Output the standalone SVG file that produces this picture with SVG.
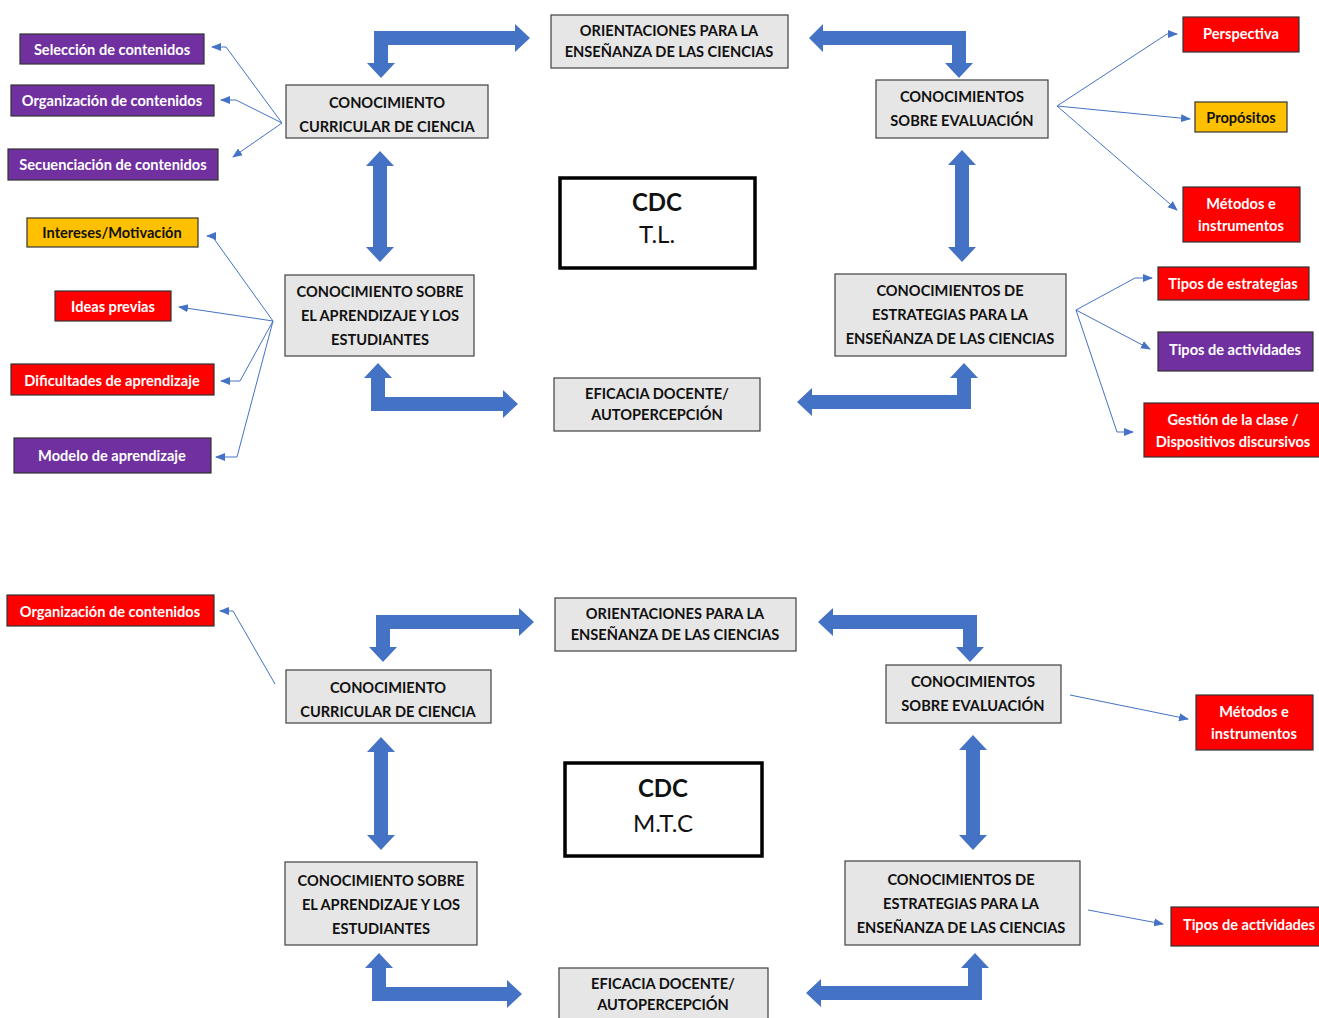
<svg xmlns="http://www.w3.org/2000/svg" width="1319" height="1018" viewBox="0 0 1319 1018">
<style>
.box{fill:#E7E6E6;stroke:#404040;stroke-width:1.2}
.cdc{fill:#fff;stroke:#000;stroke-width:3.5}
.pur{fill:#7030A0;stroke:#333;stroke-width:1.2}
.red{fill:#FF0000;stroke:#333;stroke-width:1.2}
.yel{fill:#FFC000;stroke:#333;stroke-width:1.2}
text{font-family:Lato,"Open Sans","Liberation Sans",sans-serif;font-weight:bold;text-anchor:middle;dominant-baseline:central}
.t{font-size:14.6px;fill:#111}
.w{font-size:14.6px;fill:#fff}
.k{font-size:14.6px;fill:#111}
.big{font-size:24px;fill:#111}
.reg{font-weight:normal}
.blk{fill:#4472C4}
.ln{fill:none;stroke:#4472C4;stroke-width:1}
</style>
<defs>
<marker id="ah" markerUnits="userSpaceOnUse" markerWidth="10" markerHeight="10" viewBox="0 0 10 10" refX="9" refY="5" orient="auto">
<path d="M0,1 L10,5 L0,9 Z" fill="#4472C4"/>
</marker>
</defs>
<rect width="1319" height="1018" fill="#fff"/>

<g id="connectors">
<path class="blk" d="M374,31 L515,31 L515,24 L530,38 L515,52 L515,45 L388,45 L388,63 L395,63 L381,78 L367,63 L374,63 Z"/>
<path class="blk" d="M966,31 L823,31 L823,24 L809,38 L823,52 L823,45 L952,45 L952,63 L945,63 L959,78 L973,63 L966,63 Z"/>
<path class="blk" d="M380,151 L394,166 L387,166 L387,247 L394,247 L380,262 L366,247 L373,247 L373,166 L366,166 Z"/>
<path class="blk" d="M962,150 L976,165 L969,165 L969,247 L976,247 L962,262 L948,247 L955,247 L955,165 L948,165 Z"/>
<path class="blk" d="M371,411 L371,378 L364,378 L378,363 L392,378 L385,378 L385,397 L503,397 L503,390 L518,404 L503,418 L503,411 Z"/>
<path class="blk" d="M971,409 L812,409 L812,416 L797,402 L812,388 L812,395 L957,395 L957,378 L950,378 L964,363 L978,378 L971,378 Z"/>
<path class="blk" d="M376,615 L519,615 L519,608 L534,622 L519,636 L519,629 L390,629 L390,647 L397,647 L383,662 L369,647 L376,647 Z"/>
<path class="blk" d="M977,615 L833,615 L833,608 L818,622 L833,636 L833,629 L963,629 L963,647 L956,647 L970,662 L984,647 L977,647 Z"/>
<path class="blk" d="M381,737 L395,752 L388,752 L388,835 L395,835 L381,850 L367,835 L374,835 L374,752 L367,752 Z"/>
<path class="blk" d="M973,735 L987,750 L980,750 L980,835 L987,835 L973,850 L959,835 L966,835 L966,750 L959,750 Z"/>
<path class="blk" d="M372,1001 L372,968 L365,968 L379,953 L393,968 L386,968 L386,987 L507,987 L507,980 L522,994 L507,1008 L507,1001 Z"/>
<path class="blk" d="M982,1000 L821,1000 L821,1007 L806,993 L821,979 L821,986 L968,986 L968,968 L961,968 L975,953 L989,968 L982,968 Z"/>

<path class="ln" marker-end="url(#ah)" d="M282,123 L226,47 L212,47"/>
<path class="ln" marker-end="url(#ah)" d="M282,123 L236,100 L221,100"/>
<path class="ln" marker-end="url(#ah)" d="M282,123 L233,157"/>
<path class="ln" marker-end="url(#ah)" d="M273,321 L212,236 L207,236"/>
<path class="ln" marker-end="url(#ah)" d="M273,321 L179,307"/>
<path class="ln" marker-end="url(#ah)" d="M273,321 L240,381 L221,381"/>
<path class="ln" marker-end="url(#ah)" d="M273,321 L237,457 L216,457"/>
<path class="ln" marker-end="url(#ah)" d="M1057,106 L1167,34 L1177,34"/>
<path class="ln" marker-end="url(#ah)" d="M1057,106 L1190,119"/>
<path class="ln" marker-end="url(#ah)" d="M1057,106 L1177,210"/>
<path class="ln" marker-end="url(#ah)" d="M1076,310 L1135,278 L1152,278"/>
<path class="ln" marker-end="url(#ah)" d="M1076,310 L1150,349"/>
<path class="ln" marker-end="url(#ah)" d="M1076,310 L1117,432 L1133,432"/>
<path class="ln" marker-end="url(#ah)" d="M275,684 L233,611 L220,611"/>
<path class="ln" marker-end="url(#ah)" d="M1070,695 L1188,719"/>
<path class="ln" marker-end="url(#ah)" d="M1088,910 L1163,924"/>
</g>

<g id="n-cc1"><rect class="box" x="286" y="85" width="202" height="53"/><text class="t" x="387" y="102">CONOCIMIENTO</text><text class="t" x="387" y="126">CURRICULAR DE CIENCIA</text></g>
<g id="n-or1"><rect class="box" x="551" y="15" width="237" height="53"/><text class="t" x="669" y="30">ORIENTACIONES PARA LA</text><text class="t" x="669" y="51">ENSEÑANZA DE LAS CIENCIAS</text></g>
<g id="n-ev1"><rect class="box" x="876" y="80" width="172" height="58"/><text class="t" x="962" y="96">CONOCIMIENTOS</text><text class="t" x="962" y="120">SOBRE EVALUACIÓN</text></g>
<g id="n-ap1"><rect class="box" x="285" y="275" width="189" height="81"/><text class="t" x="380" y="291">CONOCIMIENTO SOBRE</text><text class="t" x="380" y="315">EL APRENDIZAJE Y LOS</text><text class="t" x="380" y="339">ESTUDIANTES</text></g>
<g id="n-ef1"><rect class="box" x="554" y="378" width="206" height="53"/><text class="t" x="657" y="393">EFICACIA DOCENTE/</text><text class="t" x="657" y="414">AUTOPERCEPCIÓN</text></g>
<g id="n-es1"><rect class="box" x="835" y="274" width="231" height="82"/><text class="t" x="950" y="290">CONOCIMIENTOS DE</text><text class="t" x="950" y="314">ESTRATEGIAS PARA LA</text><text class="t" x="950" y="338">ENSEÑANZA DE LAS CIENCIAS</text></g>
<g id="n-cdc1"><rect class="cdc" x="560" y="178" width="195" height="90"/><text class="big" x="657" y="201">CDC</text><text class="big reg" x="657" y="233">T.L.</text></g>

<g id="n-sel"><rect class="pur" x="20" y="34" width="184" height="30"/><text class="w" x="112" y="49">Selección de contenidos</text></g>
<g id="n-org"><rect class="pur" x="11" y="85" width="203" height="31"/><text class="w" x="112" y="100">Organización de contenidos</text></g>
<g id="n-sec"><rect class="pur" x="8" y="149" width="210" height="31"/><text class="w" x="113" y="164">Secuenciación de contenidos</text></g>
<g id="n-int"><rect class="yel" x="27" y="218" width="171" height="29"/><text class="k" x="112" y="232">Intereses/Motivación</text></g>
<g id="n-ide"><rect class="red" x="55" y="291" width="116" height="30"/><text class="w" x="113" y="306">Ideas previas</text></g>
<g id="n-dif"><rect class="red" x="11" y="364" width="203" height="31"/><text class="w" x="112" y="380">Dificultades de aprendizaje</text></g>
<g id="n-mod"><rect class="pur" x="14" y="438" width="197" height="35"/><text class="w" x="112" y="455">Modelo de aprendizaje</text></g>
<g id="n-per"><rect class="red" x="1183" y="17" width="116" height="35"/><text class="w" x="1241" y="33">Perspectiva</text></g>
<g id="n-pro"><rect class="yel" x="1195" y="102" width="92" height="30"/><text class="k" x="1241" y="117">Propósitos</text></g>
<g id="n-met1"><rect class="red" x="1183" y="187" width="117" height="55"/><text class="w" x="1241" y="203">Métodos e</text><text class="w" x="1241" y="225">instrumentos</text></g>
<g id="n-tes"><rect class="red" x="1158" y="267" width="151" height="33"/><text class="w" x="1233" y="283">Tipos de estrategias</text></g>
<g id="n-tac1"><rect class="pur" x="1158" y="332" width="155" height="39"/><text class="w" x="1235" y="349">Tipos de actividades</text></g>
<g id="n-ges"><rect class="red" x="1144" y="403" width="180" height="54"/><text class="w" x="1233" y="419">Gestión de la clase /</text><text class="w" x="1233" y="441">Dispositivos discursivos</text></g>

<g id="n-cc2"><rect class="box" x="286" y="670" width="205" height="53"/><text class="t" x="388" y="687">CONOCIMIENTO</text><text class="t" x="388" y="711">CURRICULAR DE CIENCIA</text></g>
<g id="n-or2"><rect class="box" x="555" y="598" width="241" height="53"/><text class="t" x="675" y="613">ORIENTACIONES PARA LA</text><text class="t" x="675" y="634">ENSEÑANZA DE LAS CIENCIAS</text></g>
<g id="n-ev2"><rect class="box" x="886" y="665" width="175" height="58"/><text class="t" x="973" y="681">CONOCIMIENTOS</text><text class="t" x="973" y="705">SOBRE EVALUACIÓN</text></g>
<g id="n-ap2"><rect class="box" x="285" y="862" width="192" height="83"/><text class="t" x="381" y="880">CONOCIMIENTO SOBRE</text><text class="t" x="381" y="904">EL APRENDIZAJE Y LOS</text><text class="t" x="381" y="928">ESTUDIANTES</text></g>
<g id="n-ef2"><rect class="box" x="559" y="968" width="209" height="60"/><text class="t" x="663" y="983">EFICACIA DOCENTE/</text><text class="t" x="663" y="1004">AUTOPERCEPCIÓN</text></g>
<g id="n-es2"><rect class="box" x="845" y="861" width="235" height="84"/><text class="t" x="961" y="879">CONOCIMIENTOS DE</text><text class="t" x="961" y="903">ESTRATEGIAS PARA LA</text><text class="t" x="961" y="927">ENSEÑANZA DE LAS CIENCIAS</text></g>
<g id="n-cdc2"><rect class="cdc" x="565" y="763" width="197" height="93"/><text class="big" x="663" y="787">CDC</text><text class="big reg" x="663" y="822">M.T.C</text></g>
<g id="n-org2"><rect class="red" x="7" y="595" width="207" height="31"/><text class="w" x="110" y="611">Organización de contenidos</text></g>
<g id="n-met2"><rect class="red" x="1196" y="695" width="117" height="55"/><text class="w" x="1254" y="711">Métodos e</text><text class="w" x="1254" y="733">instrumentos</text></g>
<g id="n-tac2"><rect class="red" x="1171" y="907" width="152" height="39"/><text class="w" x="1249" y="924">Tipos de actividades</text></g>
</svg>
